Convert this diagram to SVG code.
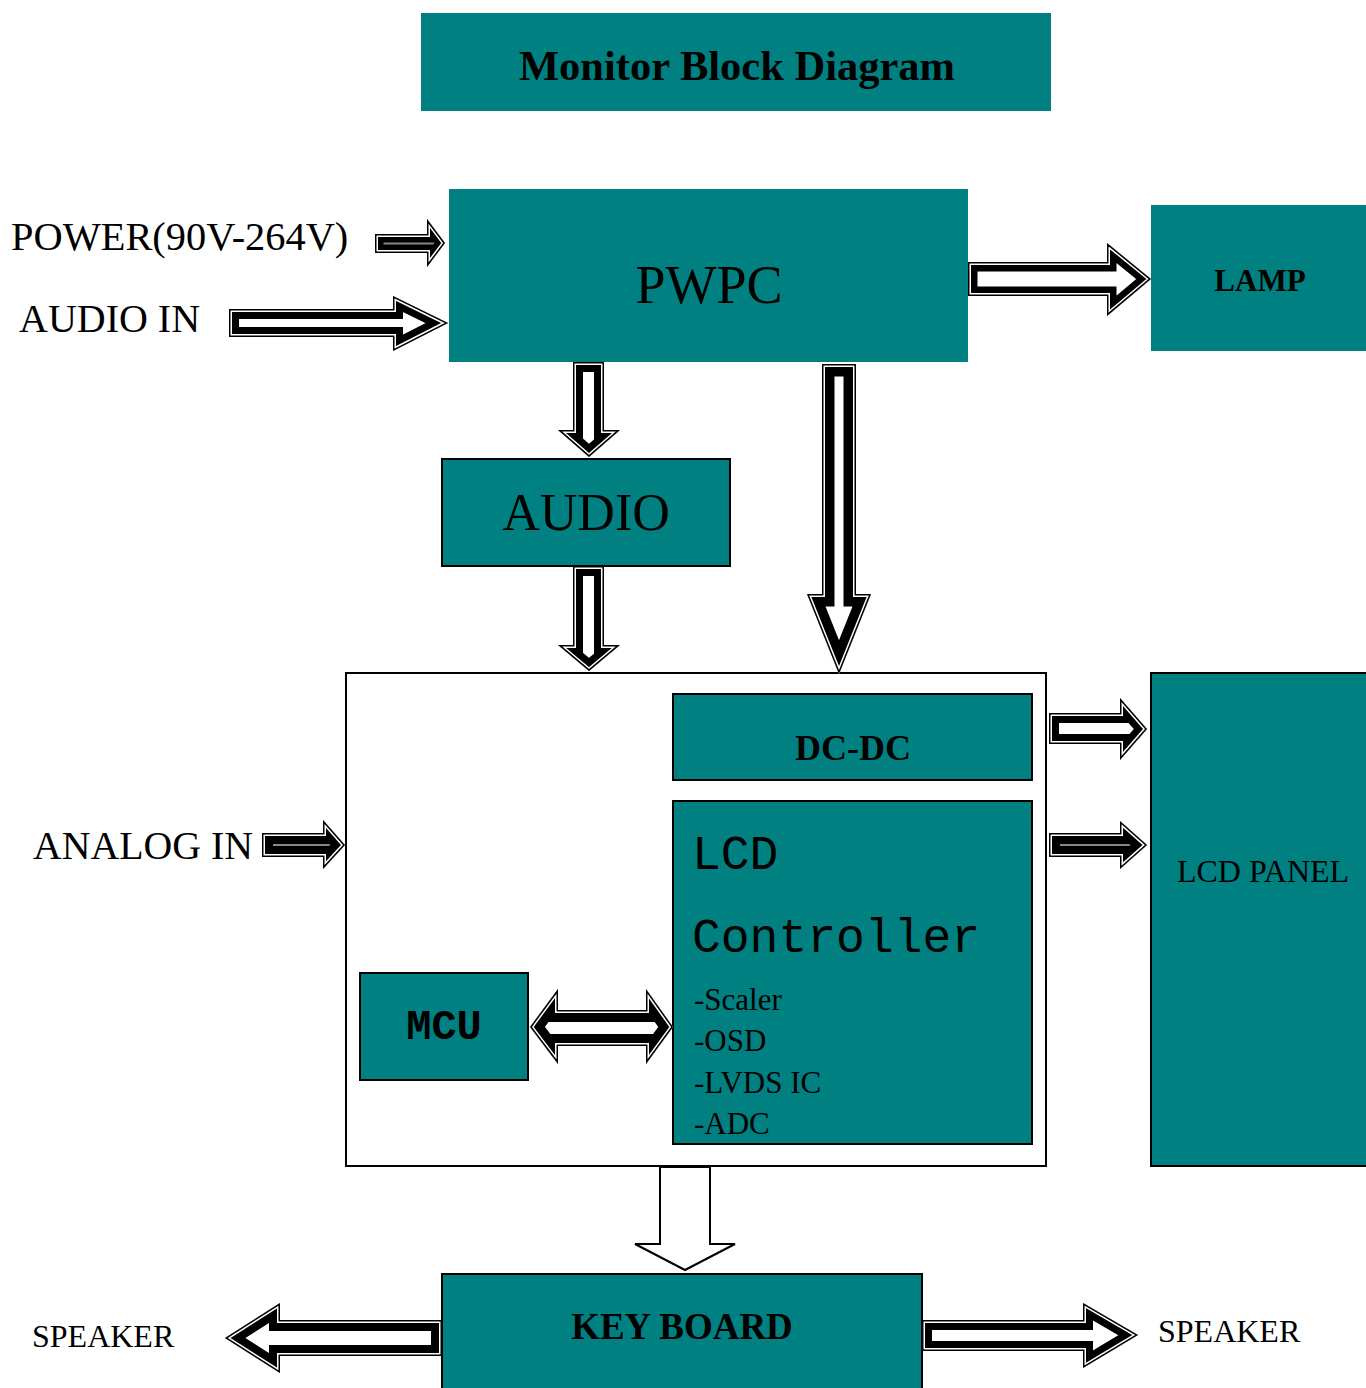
<svg xmlns="http://www.w3.org/2000/svg" xmlns:xlink="http://www.w3.org/1999/xlink" width="1366" height="1388" viewBox="0 0 1366 1388">
<style>
.teal{fill:#008080}
.bd{stroke:#000;stroke-width:2}
.t{font-family:"Liberation Serif","Times New Roman",serif;fill:#000}
.b{font-weight:bold}
.m{font-family:"Liberation Mono","Courier New",monospace;fill:#000}
.mid{text-anchor:middle}
.s2{fill:none;stroke:#fff;stroke-width:6;stroke-linejoin:miter;stroke-miterlimit:10}
.s3{fill:none;stroke:#000;stroke-width:3;stroke-linejoin:miter;stroke-miterlimit:10}
.s1{fill:#fff;stroke:#000;stroke-linejoin:miter;stroke-miterlimit:10}
.solid{fill:#888}
.plain{fill:#fff;stroke:#000;stroke-width:2;stroke-linejoin:miter}
</style>
<defs>
<path id="p-power" d="M375,234 H427 V219 L445,243 L427,267 V253 H375 Z"/>
<path id="p-audioin" d="M229,309 H393 V296 L448,323 L393,351 V337 H229 Z"/>
<path id="p-lamp" d="M968,262 H1107 V243 L1151,279 L1107,316 V296 H968 Z"/>
<path id="p-pwaud" d="M573,362 H604 V430 H620 L589,457 L558,430 H573 Z"/>
<path id="p-audmain" d="M573,566 H604 V645 H620 L589,671 L558,645 H573 Z"/>
<path id="p-long" d="M822,364 H856 V594 H871 L839,674 L807,594 H822 Z"/>
<path id="p-mcu" d="M530,1027 L558,989 V1010 H646 V989 L673,1027 L646,1064 V1046 H558 V1064 Z"/>
<path id="p-analog" d="M262,833 H323 V820 L345,845 L323,869 V857 H262 Z"/>
<path id="p-lcd1" d="M1049,713 H1120 V698 L1147,729 L1120,760 V744 H1049 Z"/>
<path id="p-lcd2" d="M1049,833 H1120 V821 L1147,845 L1120,869 V857 H1049 Z"/>
<path id="p-spkl" d="M442,1320 H280 V1303 L225,1338 L280,1373 V1356 H442 Z"/>
<path id="p-spkr" d="M922,1320 H1083 V1303 L1138,1335 L1083,1368 V1351 H922 Z"/>
<clipPath id="c-power"><use href="#p-power"/></clipPath>
<clipPath id="c-audioin"><use href="#p-audioin"/></clipPath>
<clipPath id="c-lamp"><use href="#p-lamp"/></clipPath>
<clipPath id="c-pwaud"><use href="#p-pwaud"/></clipPath>
<clipPath id="c-audmain"><use href="#p-audmain"/></clipPath>
<clipPath id="c-long"><use href="#p-long"/></clipPath>
<clipPath id="c-mcu"><use href="#p-mcu"/></clipPath>
<clipPath id="c-analog"><use href="#p-analog"/></clipPath>
<clipPath id="c-lcd1"><use href="#p-lcd1"/></clipPath>
<clipPath id="c-lcd2"><use href="#p-lcd2"/></clipPath>
<clipPath id="c-spkl"><use href="#p-spkl"/></clipPath>
<clipPath id="c-spkr"><use href="#p-spkr"/></clipPath>
</defs>
<rect width="1366" height="1388" fill="#fff"/>

<g id="title">
<rect class="teal" x="421" y="13" width="630" height="98"/>
<text class="t b mid" x="737" y="80" font-size="42.5">Monitor Block Diagram</text>
</g>

<g id="main-board">
<rect x="346" y="673" width="700" height="493" fill="#fff" class="bd"/>
</g>

<g id="pwpc">
<rect class="teal" x="449" y="189" width="519" height="173"/>
<text class="t mid" x="709" y="303" font-size="54">PWPC</text>
</g>

<g id="lamp">
<rect class="teal" x="1151" y="205" width="217" height="146"/>
<text class="t b mid" x="1260" y="291" font-size="31">LAMP</text>
</g>

<g id="audio">
<rect class="teal bd" x="442" y="459" width="288" height="107"/>
<text class="t mid" x="586" y="530" font-size="52">AUDIO</text>
</g>

<g id="dc-dc">
<rect class="teal bd" x="673" y="694" width="359" height="86"/>
<text class="t b mid" x="853" y="760" font-size="36">DC-DC</text>
</g>

<g id="lcd-controller">
<rect class="teal bd" x="673" y="801" width="359" height="343"/>
<text class="m" x="692" y="869" font-size="48">LCD</text>
<text class="m" x="692" y="952" font-size="48">Controller</text>
<text class="t" x="694" y="1010" font-size="31">-Scaler</text>
<text class="t" x="694" y="1051" font-size="31">-OSD</text>
<text class="t" x="694" y="1093" font-size="31">-LVDS IC</text>
<text class="t" x="694" y="1134" font-size="31">-ADC</text>
</g>

<g id="mcu">
<rect class="teal bd" x="360" y="973" width="168" height="107"/>
<text class="m b mid" x="444" y="1039" font-size="42">MCU</text>
</g>

<g id="lcd-panel">
<rect class="teal bd" x="1151" y="673" width="217" height="493"/>
<text class="t mid" x="1263" y="882" font-size="32">LCD PANEL</text>
</g>

<g id="keyboard">
<rect class="teal bd" x="442" y="1274" width="480" height="120"/>
<text class="t b mid" x="682" y="1339" font-size="37">KEY BOARD</text>
</g>

<g id="labels">
<text class="t" x="11" y="250" font-size="40.4">POWER(90V-264V)</text>
<text class="t" x="19" y="332" font-size="40">AUDIO IN</text>
<text class="t" x="33" y="859" font-size="39.8">ANALOG IN</text>
<text class="t" x="32" y="1347" font-size="32">SPEAKER</text>
<text class="t" x="1158" y="1342" font-size="32">SPEAKER</text>
</g>

<g id="connectors">
<g clip-path="url(#c-power)"><use href="#p-power" class="s1 solid" stroke-width="17"/><use href="#p-power" class="s2"/><use href="#p-power" class="s3"/></g>
<g clip-path="url(#c-audioin)"><use href="#p-audioin" class="s1" stroke-width="20"/><use href="#p-audioin" class="s2"/><use href="#p-audioin" class="s3"/></g>
<g clip-path="url(#c-lamp)"><use href="#p-lamp" class="s1" stroke-width="19"/><use href="#p-lamp" class="s2"/><use href="#p-lamp" class="s3"/></g>
<g clip-path="url(#c-pwaud)"><use href="#p-pwaud" class="s1" stroke-width="20"/><use href="#p-pwaud" class="s2"/><use href="#p-pwaud" class="s3"/></g>
<g clip-path="url(#c-audmain)"><use href="#p-audmain" class="s1" stroke-width="20"/><use href="#p-audmain" class="s2"/><use href="#p-audmain" class="s3"/></g>
<g clip-path="url(#c-long)"><use href="#p-long" class="s1" stroke-width="25"/><use href="#p-long" class="s2"/><use href="#p-long" class="s3"/></g>
<g clip-path="url(#c-mcu)"><use href="#p-mcu" class="s1" stroke-width="24"/><use href="#p-mcu" class="s2"/><use href="#p-mcu" class="s3"/></g>
<g clip-path="url(#c-analog)"><use href="#p-analog" class="s1 solid" stroke-width="22"/><use href="#p-analog" class="s2"/><use href="#p-analog" class="s3"/></g>
<g clip-path="url(#c-lcd1)"><use href="#p-lcd1" class="s1" stroke-width="20"/><use href="#p-lcd1" class="s2"/><use href="#p-lcd1" class="s3"/></g>
<g clip-path="url(#c-lcd2)"><use href="#p-lcd2" class="s1 solid" stroke-width="22"/><use href="#p-lcd2" class="s2"/><use href="#p-lcd2" class="s3"/></g>
<g clip-path="url(#c-spkl)"><use href="#p-spkl" class="s1" stroke-width="22"/><use href="#p-spkl" class="s2"/><use href="#p-spkl" class="s3"/></g>
<g clip-path="url(#c-spkr)"><use href="#p-spkr" class="s1" stroke-width="20"/><use href="#p-spkr" class="s2"/><use href="#p-spkr" class="s3"/></g>
<path class="plain" d="M660,1167 H710 V1244 H735 L685,1270 L635,1244 H660 Z"/>
</g>
</svg>
